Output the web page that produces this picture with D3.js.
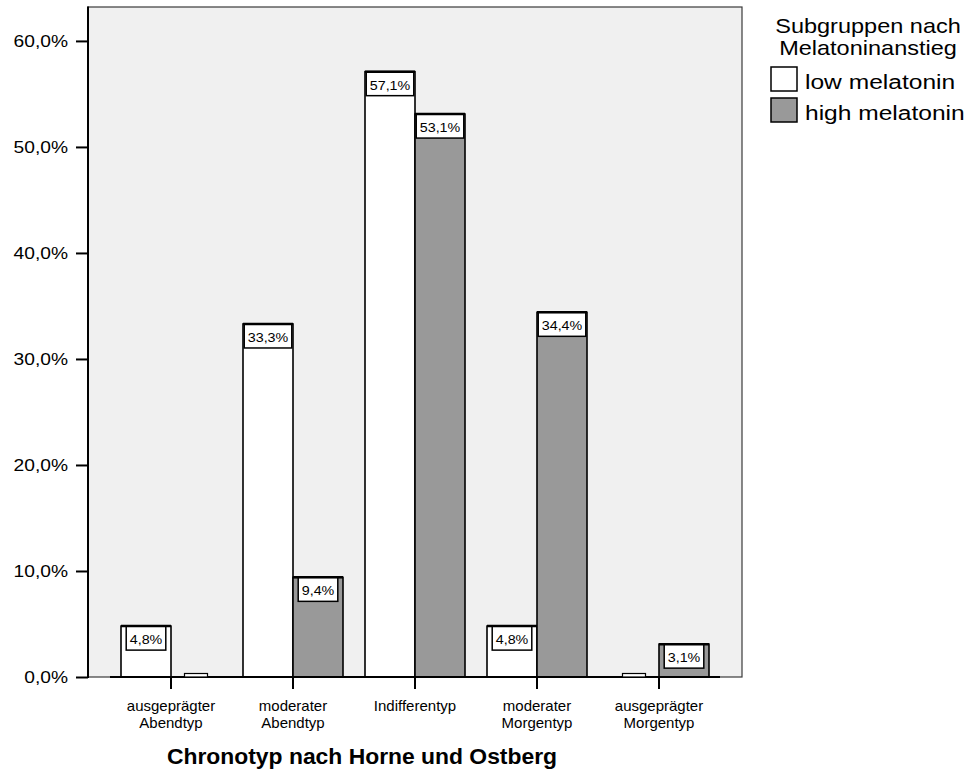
<!DOCTYPE html>
<html>
<head>
<meta charset="utf-8">
<script src="https://cdn.jsdelivr.net/npm/d3@7"></script>
<style>
  html, body { margin: 0; padding: 0; background: #ffffff; }
  svg { display: block; font-family: "Liberation Sans", Arial, sans-serif; }
</style>
</head>
<body>
<svg id="chart" width="972" height="778"></svg>
<script>
// Chronotype distribution by melatonin subgroup (percent within subgroup)
const categories = [
  ["ausgeprägter", "Abendtyp"],
  ["moderater", "Abendtyp"],
  ["Indifferentyp"],
  ["moderater", "Morgentyp"],
  ["ausgeprägter", "Morgentyp"]
];
const seriesNames = ["low melatonin", "high melatonin"];
const lowMelatonin = [4.8, 33.3, 57.1, 4.8, 0];
const highMelatonin = [0, 9.4, 53.1, 34.4, 3.1];
const yTicks = [0, 10, 20, 30, 40, 50, 60];
const legendTitle = ["Subgruppen nach", "Melatoninanstieg"];
const xTitle = "Chronotyp nach Horne und Ostberg";

const seriesValues = [lowMelatonin, highMelatonin];
const seriesFill = ["#ffffff", "#999999"];

const svg = d3.select("#chart");

const plot = { left: 88, right: 742, top: 7, bottom: 677 };
const catKeys = categories.map(c => c.join(" "));

const y = d3.scaleLinear().domain([0, 63.2]).range([plot.bottom, plot.top]);
const x = d3.scaleBand().domain(catKeys).range([110, 720]).padding(0);
const xs = d3.scaleBand().domain(seriesNames).range([-50, 50]).padding(0);

const fmt = v => d3.format(".1f")(v).replace(".", ",") + "%";

// place a text element with a horizontal stretch
function stretchedText(parent, tx, ty, str, size, sx, anchor, weight) {
  return parent.append("text")
    .attr("transform", `translate(${tx},${ty}) scale(${sx},1)`)
    .attr("text-anchor", anchor || "start")
    .attr("font-size", size)
    .attr("font-weight", weight || "normal")
    .attr("fill", "#000")
    .text(str);
}

// plot background
svg.append("rect")
  .attr("x", plot.left).attr("y", plot.top)
  .attr("width", plot.right - plot.left).attr("height", plot.bottom - plot.top)
  .attr("fill", "#f0f0f0").attr("stroke", "#3a3a3a").attr("stroke-width", 1.2);

// y axis
const yAxis = d3.axisLeft(y).tickValues(yTicks).tickSize(12).tickFormat("");
const gy = svg.append("g").attr("transform", `translate(${plot.left},0)`).call(yAxis);
gy.select(".domain").remove();
gy.selectAll(".tick line").attr("stroke", "#000").attr("stroke-width", 2);
yTicks.forEach(t => {
  stretchedText(svg, 68, y(t) + 6, fmt(t), 16, 1.2, "end");
});
svg.append("line")
  .attr("x1", plot.left).attr("x2", plot.left)
  .attr("y1", plot.top - 0.5).attr("y2", plot.bottom + 1)
  .attr("stroke", "#000").attr("stroke-width", 2);

// bars
const groups = svg.append("g");
catKeys.forEach((key, ci) => {
  const cx = x(key) + x.bandwidth() / 2;
  seriesNames.forEach((s, si) => {
    const v = seriesValues[si][ci];
    const bx = cx + xs(s);
    if (v > 0) {
      groups.append("rect")
        .attr("x", bx).attr("y", y(v))
        .attr("width", xs.bandwidth()).attr("height", y(0) - y(v))
        .attr("fill", seriesFill[si]).attr("stroke", "#000").attr("stroke-width", 1.6);
    }
  });
});

// baseline
svg.append("line")
  .attr("x1", 110).attr("x2", 720)
  .attr("y1", y(0)).attr("y2", y(0))
  .attr("stroke", "#000").attr("stroke-width", 2);

// value labels
catKeys.forEach((key, ci) => {
  const cx = x(key) + x.bandwidth() / 2;
  seriesNames.forEach((s, si) => {
    const v = seriesValues[si][ci];
    const mx = cx + xs(s) + xs.bandwidth() / 2;
    const top = y(v);
    const g = svg.append("g");
    if (v > 0) {
      const box = g.append("rect").attr("fill", "#fff").attr("stroke", "#000").attr("stroke-width", 1.5);
      const t = stretchedText(g, mx, top + 18, fmt(v), 13, 1.1, "middle");
      const w = t.node().getComputedTextLength() * 1.1 + 7;
      box.attr("x", mx - w / 2).attr("y", top).attr("width", w).attr("height", 24);
      g.append("line")
        .attr("x1", mx - xs.bandwidth() / 2).attr("x2", mx + xs.bandwidth() / 2)
        .attr("y1", top).attr("y2", top)
        .attr("stroke", "#000").attr("stroke-width", 2.5);
    } else {
      g.append("rect")
        .attr("x", mx - 11.5).attr("y", top - 3.5)
        .attr("width", 23).attr("height", 3.5)
        .attr("fill", "#fff").attr("stroke", "#000").attr("stroke-width", 1.2);
    }
  });
});

// category ticks and labels
catKeys.forEach((key, ci) => {
  const cx = x(key) + x.bandwidth() / 2;
  svg.append("line")
    .attr("x1", cx).attr("x2", cx)
    .attr("y1", plot.bottom).attr("y2", plot.bottom + 12)
    .attr("stroke", "#000").attr("stroke-width", 2);
  categories[ci].forEach((line, li) => {
    stretchedText(svg, cx, 711 + li * 17, line, 15, 1.0, "middle");
  });
});

// axis title
stretchedText(svg, 362, 764, xTitle, 22, 1.04, "middle", "bold");

// legend
legendTitle.forEach((line, i) => {
  stretchedText(svg, 868, 33 + i * 22, line, 21, 1.12, "middle");
});
seriesNames.forEach((s, i) => {
  const ly = 67 + i * 31;
  svg.append("rect")
    .attr("x", 771).attr("y", ly).attr("width", 26).attr("height", 24)
    .attr("fill", seriesFill[i]).attr("stroke", "#000").attr("stroke-width", 1.5);
  stretchedText(svg, 805, ly + 22, s, 21, 1.17, "start");
});
</script>
</body>
</html>
